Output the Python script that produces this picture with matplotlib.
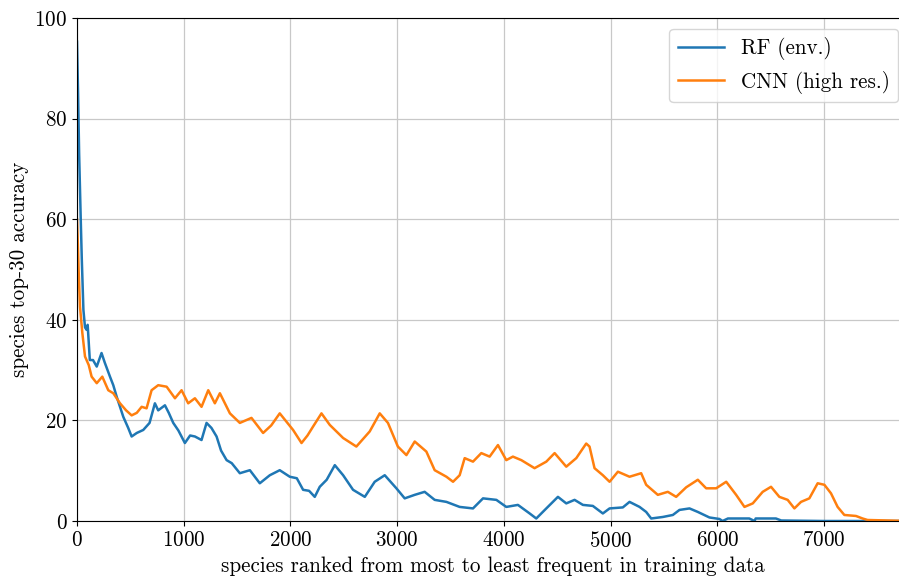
import matplotlib
matplotlib.use('Agg')
import matplotlib.pyplot as plt

# species rank vs top-30 accuracy
rf_rank = [0, 10, 20, 35, 45, 60, 75, 90, 100, 120, 150, 185, 230, 260, 309, 340, 372,
           434, 480, 512, 560, 621, 680, 730, 761, 824, 860, 902, 950, 1011, 1060, 1105,
           1167, 1214, 1260, 1308, 1350, 1402, 1450, 1526, 1620, 1713, 1807, 1900, 1994,
           2060, 2119, 2175, 2228, 2275, 2340, 2416, 2494, 2587, 2697, 2790, 2884, 2993,
           3071, 3165, 3258, 3352, 3462, 3586, 3711, 3805, 3930, 4023, 4132, 4242, 4304,
           4398, 4507, 4585, 4663, 4741, 4834, 4928, 4991, 5115, 5178, 5272, 5334, 5381,
           5490, 5584, 5646, 5740, 5818, 5927, 6021, 6050, 6100, 6300, 6350, 6360, 6550,
           6600, 7000, 7800]
rf_acc = [95.3, 85.0, 73.0, 60.0, 52.0, 42.0, 38.5, 38.0, 39.0, 32.0, 32.0, 30.7, 33.4,
          31.5, 28.7, 27.0, 24.7, 20.7, 18.5, 16.8, 17.5, 18.1, 19.5, 23.4, 22.0, 23.0,
          21.5, 19.5, 18.0, 15.5, 17.0, 16.8, 16.1, 19.5, 18.5, 16.8, 14.0, 12.1, 11.5,
          9.5, 10.1, 7.5, 9.1, 10.1, 8.8, 8.5, 6.2, 6.0, 4.8, 6.8, 8.2, 11.1, 9.1, 6.2,
          4.8, 7.8, 9.1, 6.5, 4.5, 5.2, 5.8, 4.2, 3.8, 2.8, 2.5, 4.5, 4.2, 2.8, 3.2, 1.5,
          0.5, 2.5, 4.8, 3.5, 4.2, 3.2, 3.0, 1.5, 2.5, 2.7, 3.8, 2.8, 1.8, 0.5, 0.8, 1.2,
          2.2, 2.5, 1.8, 0.7, 0.4, 0.0, 0.5, 0.5, 0.0, 0.5, 0.5, 0.1, 0.0, 0.0]

cnn_rank = [0, 8, 15, 28, 50, 75, 110, 137, 185, 237, 293, 340, 403, 460, 512, 560, 606,
            652, 699, 761, 840, 918, 980, 1042, 1105, 1167, 1230, 1292, 1339, 1433, 1526,
            1635, 1744, 1820, 1900, 2025, 2104, 2160, 2213, 2291, 2369, 2494, 2618, 2743,
            2837, 2914, 3007, 3087, 3165, 3274, 3352, 3462, 3524, 3586, 3633, 3711, 3789,
            3867, 3945, 4023, 4085, 4164, 4288, 4398, 4476, 4585, 4679, 4772, 4803, 4850,
            4928, 4991, 5069, 5178, 5287, 5334, 5443, 5537, 5615, 5709, 5818, 5896, 5990,
            6084, 6177, 6255, 6333, 6426, 6504, 6582, 6660, 6723, 6785, 6863, 6941, 7004,
            7066, 7128, 7191, 7300, 7362, 7409, 7800]
cnn_acc = [60.0, 55.0, 50.0, 42.6, 37.4, 32.7, 31.0, 28.7, 27.4, 28.7, 26.0, 25.4, 23.4,
           22.0, 21.0, 21.5, 22.7, 22.4, 26.0, 27.0, 26.7, 24.4, 26.0, 23.4, 24.4, 22.7,
           26.0, 23.4, 25.4, 21.4, 19.5, 20.5, 17.5, 19.0, 21.4, 18.1, 15.5, 17.0, 18.8,
           21.4, 19.1, 16.5, 14.8, 17.8, 21.4, 19.5, 14.8, 13.1, 15.8, 13.8, 10.1, 8.8,
           7.8, 9.1, 12.5, 11.8, 13.5, 12.8, 15.1, 12.1, 12.8, 12.1, 10.5, 11.8, 13.5,
           10.8, 12.5, 15.4, 14.8, 10.5, 9.1, 7.8, 9.8, 8.8, 9.5, 7.2, 5.2, 5.8, 4.8, 6.7,
           8.2, 6.5, 6.5, 7.8, 5.2, 2.8, 3.5, 5.8, 6.8, 4.8, 4.2, 2.5, 3.8, 4.5, 7.5, 7.2,
           5.5, 2.8, 1.2, 1.0, 0.5, 0.2, 0.0]

plt.rcParams['font.family'] = 'serif'
plt.rcParams['font.serif'] = ['cmr10']
plt.rcParams['mathtext.fontset'] = 'cm'
plt.rcParams['axes.formatter.use_mathtext'] = True

fig = plt.figure(figsize=(8.99, 5.76), dpi=100)
# axes run a little past the right edge of the picture, as in the reference crop
ax = fig.add_axes([77 / 899, 55 / 576, 832 / 899, 503 / 576])

ax.plot(rf_rank, rf_acc, color='#1f77b4', linewidth=1.8, label='RF (env.)')
ax.plot(cnn_rank, cnn_acc, color='#ff7f0e', linewidth=1.8, label='CNN (high res.)')

ax.set_xlim(0, 7797)
ax.set_ylim(0, 100)
ax.set_xticks(range(0, 8000, 1000))
ax.set_yticks(range(0, 101, 20))
ax.grid(True, color='#c8c8c8', linewidth=0.9)
ax.tick_params(labelsize=15.2)
ax.set_xlabel('species ranked from most to least frequent in training data', fontsize=15.2, labelpad=4)
ax.set_ylabel('species top-30 accuracy', fontsize=15.2)
ax.legend(loc='upper right', fontsize=15.2, handlelength=2.2)

fig.savefig('out.png', dpi=100)
